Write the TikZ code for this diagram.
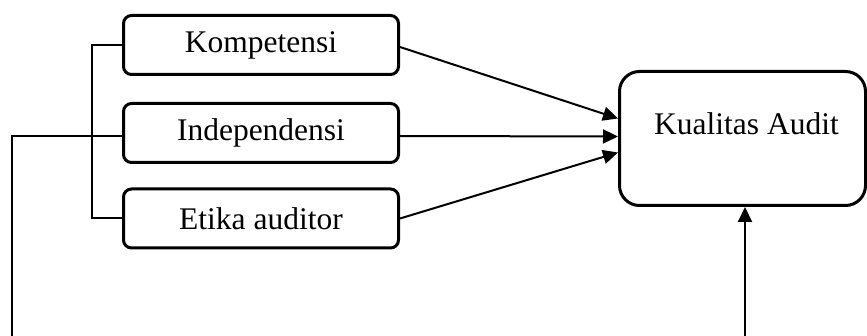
\documentclass[tikz,border=0pt]{standalone}
\usepackage{fontspec}
\setmainfont{Liberation Serif}
\usepackage{tikz}
\usetikzlibrary{arrows.meta}

\begin{document}
\begin{tikzpicture}[
		x=0.5pt, y=-0.5pt,
		every node/.style={font=\fontsize{15.75}{18}\selectfont},
		var box/.style={draw, line width=1.5pt, rounded corners=4pt, minimum width=137.5pt, minimum height=29.5pt, inner sep=0pt},
		result box/.style={draw, line width=1.5pt, rounded corners=10pt, minimum width=123pt, minimum height=67pt, inner sep=0pt},
		link/.style={line width=1pt},
		arrow link/.style={line width=1pt, -{Triangle[length=7.5pt, width=7pt]}}
		]

	\useasboundingbox (0, 0) rectangle (867, 336);

	% Variables
	\node[var box] (komp) at (261, 45) {Kompetensi};
	\node[var box] (indep) at (261, 133) {Independensi};
	\node[var box] (etika) at (261, 218.5) {Etika auditor};

	% Result
	\node[result box, label={[name=auditlabel, xshift=2pt, yshift=7.25pt]center:Kualitas Audit}] (audit) at (742.5, 138.5) {};

	% Bracket
	\draw[link] (komp.west) -- ++(-30, 0) |- (etika.west);

	% Left line
	\coordinate (leftend) at (12, 345);
	\draw[link] ([yshift=-1.5pt]indep.west) -| (leftend);

	% Arrows
	\draw[arrow link] ([yshift=-1pt]komp.east) -- ([yshift=10pt]audit.west);
	\draw[arrow link] ([yshift=-1.5pt]indep.east) -- ([yshift=1pt]audit.west);
	\draw[arrow link] (etika.east) -- ([yshift=-7pt]audit.west);

	% Bottom arrow
	\coordinate (bottomend) at (745, 345);
	\draw[arrow link] (bottomend) -- (bottomend |- audit.south);

\end{tikzpicture}
\end{document}
